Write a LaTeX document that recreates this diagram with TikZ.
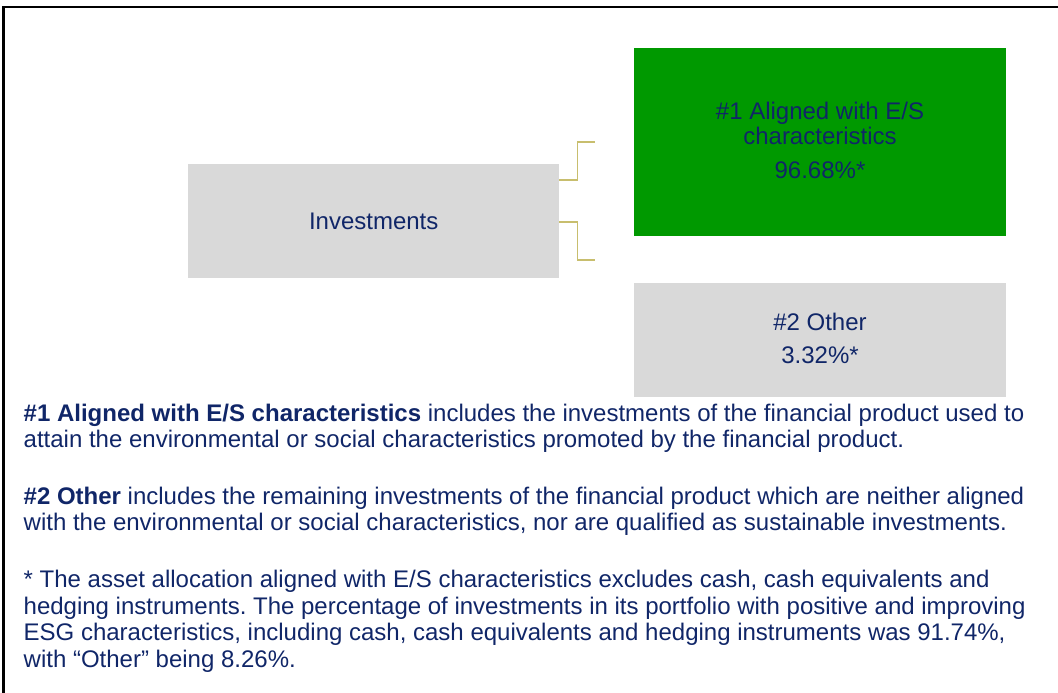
\documentclass[tikz,border=0pt]{standalone}
\usepackage{fontspec}
\setmainfont{Liberation Sans}
\frenchspacing
\definecolor{navy}{RGB}{16,38,104}
\definecolor{boxgray}{RGB}{217,217,217}
\definecolor{esgreen}{RGB}{0,153,0}
\definecolor{olivec}{RGB}{200,190,110}
\begin{document}
\begin{tikzpicture}[x=1pt,y=-1pt,
  box/.style={draw=none, inner sep=0pt, anchor=north west},
  lbl/.style={text=navy, font=\fontsize{24}{26.5}\selectfont, inner sep=0pt},
  para/.style={lbl, anchor=base west},
  ctr/.style={lbl, anchor=base},
  conn/.style={draw=olivec, line width=1.5pt},
  frameline/.style={line width=2.5pt, black}]
\useasboundingbox (0,0) rectangle (1058,693);
\draw[frameline] (1058,7) -- (3.3,7) -- (3.3,693);

\node[box, lbl, fill=boxgray, minimum width=371pt, minimum height=114pt] (inv) at (188,164) {Investments};
\node[box, fill=esgreen, minimum width=372pt, minimum height=188pt] (grn) at (634,48) {};
\node[box, fill=boxgray, minimum width=372pt, minimum height=114pt] (oth) at (634,283) {};

\node[ctr] (g1) at (820,119.3) {\#1 Aligned with E/S};
\node[ctr] (g2) at (820,144.3) {characteristics};
\node[ctr] (g3) at (820,178.3) {96.68\%*};
\node[ctr] (o1) at (820,330.7) {\#2 Other};
\node[ctr] (o2) at (820,363.3) {3.32\%*};

\coordinate (c1) at (595,142);
\coordinate (c2) at (595,260);
\draw[conn] ([yshift=41pt]inv.east) -- ++(18,0) |- (c1);
\draw[conn] ([yshift=-1pt]inv.east) -- ++(18,0) |- (c2);

\node[para] (p1a) at (23.5,421) {\textbf{\#1 Aligned with E/S characteristics} includes the investments of the financial product used to};
\node[para] (p1b) at (23.5,447.5) {attain the environmental or social characteristics promoted by the financial product.};
\node[para] (p2a) at (23.5,504) {\textbf{\#2 Other} includes the remaining investments of the financial product which are neither aligned};
\node[para] (p2b) at (23.5,530.5) {with the environmental or social characteristics, nor are qualified as sustainable investments.};
\node[para] (p3a) at (23.5,587.5) {* The asset allocation aligned with E/S characteristics excludes cash, cash equivalents and};
\node[para] (p3b) at (23.5,614) {hedging instruments. The percentage of investments in its portfolio with positive and improving};
\node[para] (p3c) at (23.5,640.5) {ESG characteristics, including cash, cash equivalents and hedging instruments was 91.74\%,};
\node[para] (p3d) at (23.5,667) {with “Other” being 8.26\%.};
\end{tikzpicture}
\end{document}
